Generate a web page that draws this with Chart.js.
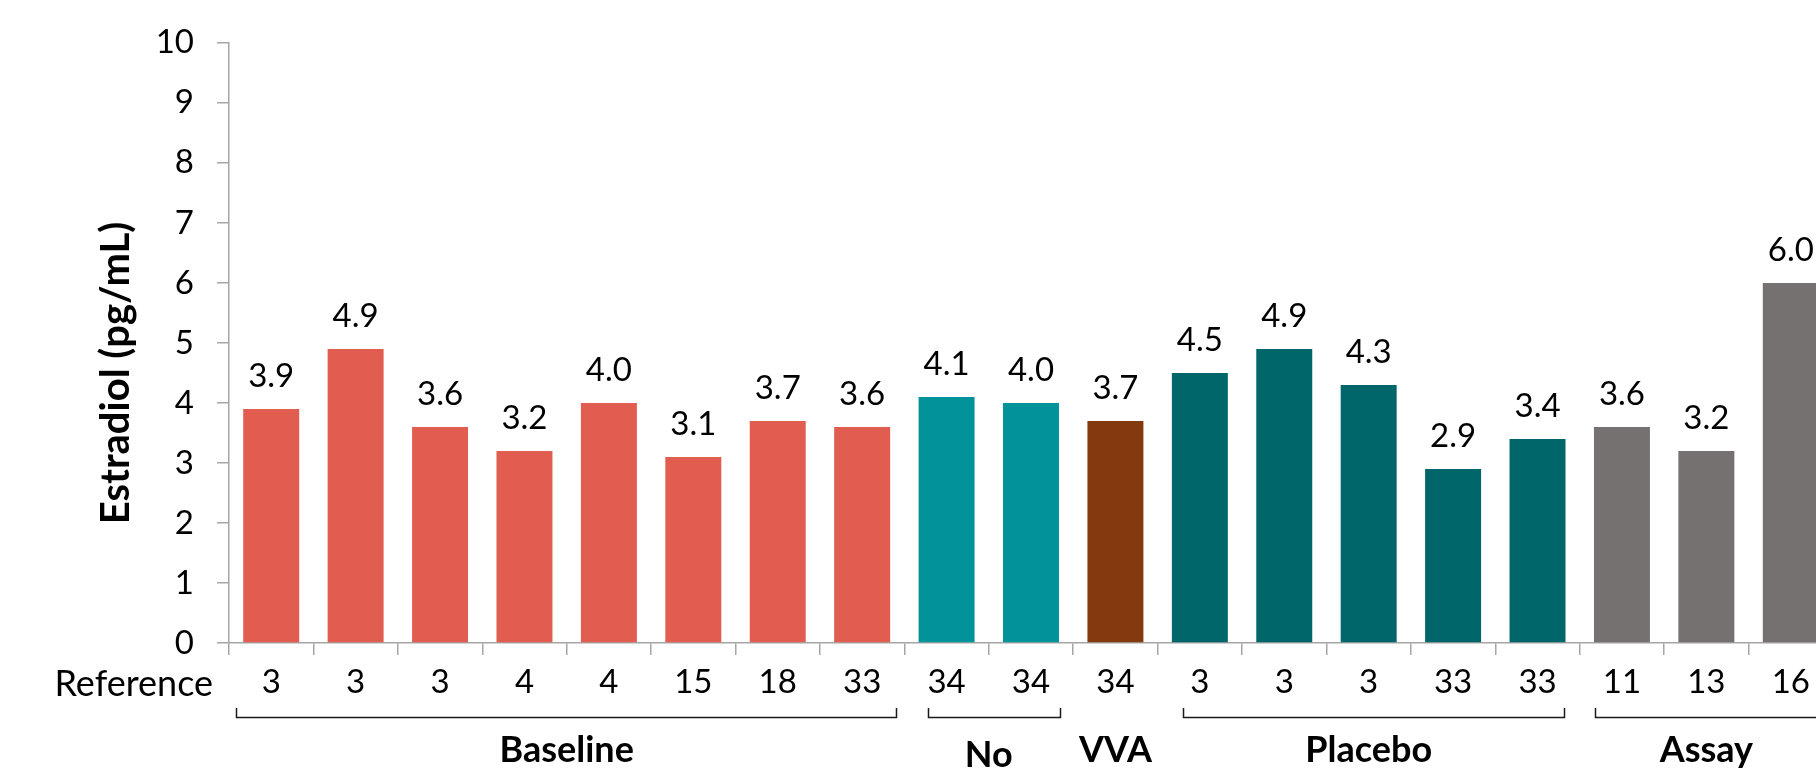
<!DOCTYPE html>
<html>
<head>
<meta charset="utf-8">
<script src="https://cdn.jsdelivr.net/npm/chart.js@4.4.1/dist/chart.umd.min.js"></script>
<style>
  html, body { margin: 0; padding: 0; background: #fff; overflow: hidden; }
  #wrap { position: relative; width: 1880px; height: 775px; }
</style>
</head>
<body>
<div id="wrap"><canvas id="c"></canvas></div>
<script>
// valores (pg/mL) e referência de cada barra
const refLabels = ['3', '3', '3', '4', '4', '15', '18', '33', '34', '34', '34', '3', '3', '3', '33', '33', '11', '13', '16'];
const estradiol = [3.9, 4.9, 3.6, 3.2, 4.0, 3.1, 3.7, 3.6, 4.1, 4.0, 3.7, 4.5, 4.9, 4.3, 2.9, 3.4, 3.6, 3.2, 6.0];
const barGroup = [0, 0, 0, 0, 0, 0, 0, 0, 1, 1, 2, 3, 3, 3, 3, 3, 4, 4, 4];
const yTicks = [0, 1, 2, 3, 4, 5, 6, 7, 8, 9, 10];

// grupos embaixo do eixo
const groupLabels = ['Baseline', 'No', 'VVA', 'Placebo', 'Assay'];
const groupFirst = [0, 8, 10, 11, 16];
const groupLast = [7, 9, 10, 15, 18];
// colchetes (em unidades de categoria)
const bracketFrom = [-0.42, 7.78, 10.8, 15.68];
const bracketTo = [7.4, 9.34, 15.31, 18.6];

const groupColors = ['#E15D50', '#01929A', '#843A0F', '#00666A', '#767171'];
const FONT = 'Lato, "Open Sans", sans-serif';

const annotations = {
  id: 'annotations',
  afterDatasetsDraw(chart) {
    const ctx = chart.ctx;
    const x = chart.scales.x;
    const meta = chart.getDatasetMeta(0);
    ctx.save();
    ctx.fillStyle = '#000';

    // rótulos de valor
    ctx.font = '33px ' + FONT;
    ctx.textAlign = 'center';
    ctx.textBaseline = 'alphabetic';
    meta.data.forEach((bar, i) => {
      ctx.fillText(estradiol[i].toFixed(1), bar.x, bar.y - 22);
    });

    // "Reference"
    ctx.font = '36px ' + FONT;
    ctx.textAlign = 'right';
    ctx.textBaseline = 'middle';
    ctx.fillText('Reference', 213, 684);

    // colchetes
    const step = x.getPixelForValue(1) - x.getPixelForValue(0);
    ctx.strokeStyle = '#1a1a1a';
    ctx.lineWidth = 1.5;
    for (let g = 0; g < bracketFrom.length; g++) {
      const x0 = Math.round(x.getPixelForValue(0) + bracketFrom[g] * step) + 0.5;
      const x1 = Math.round(x.getPixelForValue(0) + bracketTo[g] * step) + 0.5;
      ctx.beginPath();
      ctx.moveTo(x0, 708);
      ctx.lineTo(x0, 717.5);
      ctx.lineTo(x1, 717.5);
      ctx.lineTo(x1, 708);
      ctx.stroke();
    }

    // nomes dos grupos
    const drop = { No: 5 };
    ctx.font = 'bold 36px ' + FONT;
    ctx.textAlign = 'center';
    ctx.textBaseline = 'alphabetic';
    groupLabels.forEach((name, g) => {
      const cx = (x.getPixelForValue(groupFirst[g]) + x.getPixelForValue(groupLast[g])) / 2;
      ctx.fillText(name, cx, 762 + (drop[name] || 0));
    });

    // título do eixo y
    ctx.translate(116, 373);
    ctx.rotate(-Math.PI / 2);
    ctx.font = 'bold 40px ' + FONT;
    ctx.textBaseline = 'middle';
    ctx.fillText('Estradiol (pg/mL)', 0, 0);
    ctx.restore();
  }
};

new Chart(document.getElementById('c'), {
  type: 'bar',
  data: {
    labels: refLabels,
    datasets: [{
      data: estradiol,
      backgroundColor: barGroup.map(g => groupColors[g]),
      borderWidth: 0,
      categoryPercentage: 1,
      barPercentage: 0.663
    }]
  },
  options: {
    responsive: true,
    maintainAspectRatio: false,
    animation: false,
    layout: { padding: { top: 34, right: 47, left: 0, bottom: 0 } },
    plugins: { legend: { display: false }, tooltip: { enabled: false } },
    scales: {
      x: {
        afterFit: s => { s.height = 132; },
        border: { color: '#A6A6A6', width: 1.5 },
        grid: { offset: true, drawOnChartArea: false, drawTicks: true, tickLength: 12, color: '#A6A6A6', lineWidth: 1.5 },
        ticks: { color: '#000', font: { family: FONT, size: 33 }, padding: 8, autoSkip: false, maxRotation: 0 }
      },
      y: {
        min: 0,
        max: 10,
        afterFit: s => { s.width = 229; },
        afterBuildTicks: s => { s.ticks = yTicks.map(v => ({ value: v })); },
        border: { color: '#A6A6A6', width: 1.5 },
        grid: { drawOnChartArea: false, drawTicks: true, tickLength: 12, color: '#A6A6A6', lineWidth: 1.5 },
        ticks: { color: '#000', font: { family: FONT, size: 33 }, padding: 23 }
      }
    }
  },
  plugins: [annotations]
});
</script>
</body>
</html>
